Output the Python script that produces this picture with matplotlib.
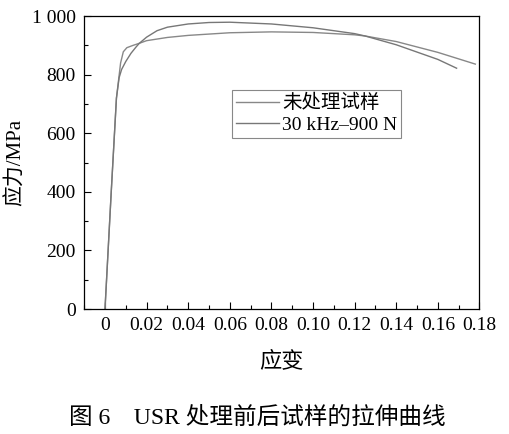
import numpy as np
import matplotlib
matplotlib.use('Agg')
from matplotlib import pyplot as plt
from matplotlib.ticker import MultipleLocator, FuncFormatter

# untreated sample
strain_raw = [0, 0.003, 0.0055, 0.0075, 0.0088, 0.0105, 0.0135, 0.0165, 0.02, 0.03, 0.04,
              0.06, 0.08, 0.10, 0.12, 0.125, 0.14, 0.16, 0.178]
stress_raw = [0, 400, 720, 840, 878, 892, 900, 907, 916, 927, 934,
              943, 946, 944, 936, 932, 913, 876, 836]

# 30 kHz-900 N
strain_usr = [0, 0.003, 0.0055, 0.0068, 0.008, 0.01, 0.0125, 0.015, 0.0165, 0.02, 0.025, 0.03,
              0.04, 0.05, 0.06, 0.08, 0.10, 0.12, 0.125, 0.14, 0.16, 0.169]
stress_usr = [0, 400, 720, 790, 818, 845, 873, 895, 907, 928, 950, 962,
              973, 978, 979, 973, 960, 940, 932, 902, 852, 822]

labels = ['未处理试样', '30 kHz\u2013900 N']

fam = ['Liberation Serif', 'Noto Sans CJK SC']
plt.rcParams['font.family'] = fam
plt.rcParams['font.size'] = 14
plt.rcParams['axes.unicode_minus'] = False

fig = plt.figure(figsize=(5.09, 4.34), dpi=100)
ax = fig.add_axes([0.165, 0.288, 0.777, 0.675])

ax.plot(strain_raw, stress_raw, color='#888888', lw=1.0, label=labels[0])
ax.plot(strain_usr, stress_usr, color='#777777', lw=1.0, label=labels[1])

ax.set_xlim(-0.0101, 0.18)
ax.set_ylim(0, 1000)
ax.xaxis.set_major_locator(MultipleLocator(0.02))
ax.xaxis.set_minor_locator(MultipleLocator(0.01))
ax.yaxis.set_major_locator(MultipleLocator(200))
ax.yaxis.set_minor_locator(MultipleLocator(100))

def xfmt(v, pos):
    if abs(v) < 1e-9:
        return '0'
    return f'{v:.2f}'

def yfmt(v, pos):
    v = int(round(v))
    if v >= 1000:
        return f'{v // 1000} {v % 1000:03d}'
    return str(v)

ax.xaxis.set_major_formatter(FuncFormatter(xfmt))
ax.yaxis.set_major_formatter(FuncFormatter(yfmt))
ax.tick_params(which='both', direction='in', top=False, right=False, labelsize=14)
ax.tick_params(which='major', length=5, width=0.8, pad=6)
ax.tick_params(which='minor', length=3, width=0.8)
for s in ax.spines.values():
    s.set_linewidth(0.9)

ax.set_ylabel('应力/MPa', fontsize=15, labelpad=4)
ax.set_xlabel('应变', fontsize=16, labelpad=12)

leg = ax.legend(loc='upper left', bbox_to_anchor=(0.374, 0.747), frameon=True,
                fancybox=False, edgecolor='#888888', framealpha=1,
                handlelength=2.2, handletextpad=0.2, borderpad=0.2,
                labelspacing=0.2, borderaxespad=0, fontsize=14)
leg.get_frame().set_linewidth(0.8)

fig.text(0.505, 0.037, '图 6    USR 处理前后试样的拉伸曲线', ha='center', va='center',
         fontsize=17, family=fam)

fig.savefig('out.png', dpi=100)
